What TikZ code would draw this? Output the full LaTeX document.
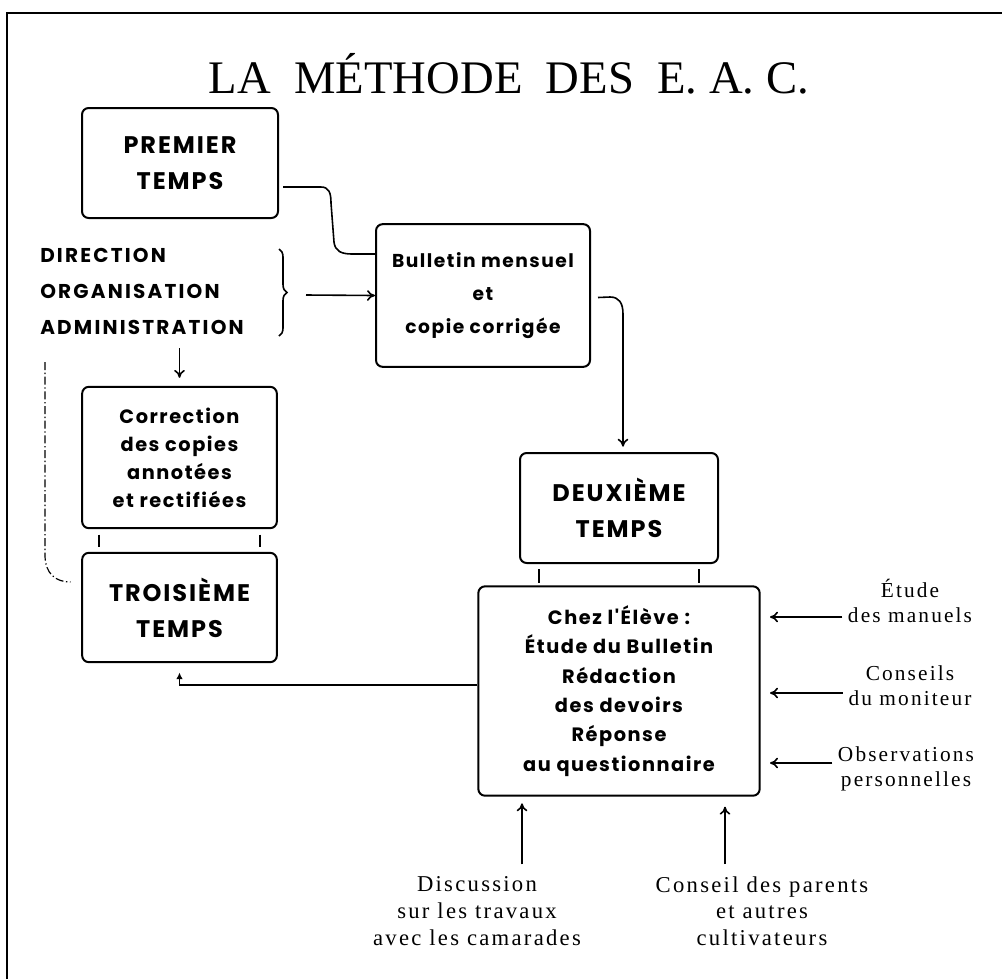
\documentclass[tikz,border=0pt]{standalone}
\usepackage{fontspec}
\setmainfont{Liberation Serif}
\newfontfamily\boxfont{Poppins}[LetterSpace=8]
\newfontfamily\capsfont{Poppins}[LetterSpace=11]
\newfontfamily\labelfont{Liberation Serif}[LetterSpace=10]
\usetikzlibrary{arrows.meta,decorations.pathreplacing}

\tikzset{
  box/.style={draw, line width=1.5pt, rounded corners=5pt, align=center, inner sep=0pt},
  capsbox/.style={box, font=\boxfont\bfseries\fontsize{18}{27}\selectfont},
  textbox/.style={box, font=\boxfont\bfseries\fontsize{14.5}{21}\selectfont},
  sidelabel/.style={align=center, inner sep=0pt, font=\labelfont\fontsize{16}{19}\selectfont},
  footlabel/.style={align=center, inner sep=0pt, font=\labelfont\fontsize{17}{20}\selectfont},
  link/.style={line width=1.2pt},
  arrowlink/.style={link, -{To[length=6pt,width=8pt]}},
  dashdotlink/.style={line width=0.9pt, dash pattern=on 6pt off 2pt on 1pt off 2pt},
}

\begin{document}
\begin{tikzpicture}[x=0.75pt,y=0.75pt,yscale=-1,xscale=1]
    \useasboundingbox (0,0) rectangle (1002,979);

    % Frame
    \draw[line width=1.5pt] (7,979) -- (7,13) -- (1002,13);

    % Title
    \node[inner sep=0pt, font=\fontsize{35}{35}\selectfont] (title) at (509,74) {LA\enspace MÉTHODE\enspace DES\enspace E.~A.~C.};

    % Boxes
    \node[capsbox, minimum width=147pt, minimum height=82.5pt] (premier) at (180,163) {PREMIER\\TEMPS};
    \node[box, font=\boxfont\bfseries\fontsize{14}{25}\selectfont, minimum width=160.5pt, minimum height=107pt] (bulletin) at (483,295.5) {Bulletin mensuel\\et\\copie corrigée};
    \node[textbox, minimum width=146pt, minimum height=106pt] (correction) at (179.5,457.5) {Correction\\des copies\\annotées\\et rectifiées};
    \node[capsbox, minimum width=146pt, minimum height=82pt] (troisieme) at (179.5,607.5) {TROISIÈME\\TEMPS};
    \node[capsbox, minimum width=148.5pt, minimum height=82.5pt] (deuxieme) at (619,508) {DEUXIÈME\\TEMPS};
    \node[box, font=\boxfont\bfseries\fontsize{14.5}{22}\selectfont, minimum width=211pt, minimum height=157pt] (chez) at (619,691) {Chez l'Élève :\\Étude du Bulletin\\Rédaction\\des devoirs\\Réponse\\au questionnaire};

    % Text Node
    \node[anchor=west, align=left, inner sep=0pt, font=\capsfont\bfseries\fontsize{15}{27}\selectfont] (dir) at (40,291) {DIRECTION\\ORGANISATION\\ADMINISTRATION};
    % Text Node
    \node[sidelabel] (etude) at (910,601) {Étude\\des manuels};
    \node[sidelabel] (conseils) at (910,686) {Conseils\\du moniteur};
    \node[sidelabel] (observ) at (906,769) {Observations\\personnelles};
    % Text Node
    \node[footlabel] (discussion) at (477,911) {Discussion\\sur les travaux\\avec les camarades};
    \node[footlabel] (parents) at (762,911) {Conseil des parents\\et autres\\cultivateurs};

    % Brace
    \draw[link, decorate, decoration={brace, amplitude=6pt}] (279,249) -- (279,336);
    \coordinate (bracetip) at (306,295);
    \coordinate (dashstart) at (45,362);

    % Connectors
    \draw[link] (premier.east) ++(4,24) -- (321,187) .. controls (329,187) and (331,193) .. (331,203) -- (334,242) .. controls (335,251) and (341,254) .. (352,254) -- (bulletin.west |- 0,254);
    \draw[arrowlink] (bracetip) -- (bulletin.west);
    \draw[arrowlink, shorten >=6pt] (correction.north |- 0,348) -- (correction.north);
    \draw[dashdotlink, shorten >=8pt] (dashstart) -- (45,555) .. controls (45,574) and (56,582) .. (troisieme.west |- 0,582);
    \draw[arrowlink, shorten >=4pt] (bulletin.east) ++(7,2) -- (610,297) .. controls (619,297) and (623,303) .. (623,314) -- (deuxieme.north -| 623,0);
    \draw[link, -{Latex[length=5pt,width=5pt]}, shorten >=7pt] (chez.west |- 0,685) -| (troisieme.south);

    % Ticks
    \foreach \tx in {99,260}
      \draw[link, shorten <=4pt, shorten >=4pt] (correction.south -| \tx,0) -- (troisieme.north -| \tx,0);
    \foreach \tx in {539,699}
      \draw[link, shorten <=4pt, shorten >=2pt] (deuxieme.south -| \tx,0) -- (chez.north -| \tx,0);

    % Side inputs
    \foreach \lab/\ly in {etude/617, conseils/693, observ/763}
      \draw[arrowlink, shorten <=4pt, shorten >=7pt] (\lab.west |- 0,\ly) -- (chez.east |- 0,\ly);
    \draw[arrowlink, shorten >=5pt] (discussion.north -| 522,0) ++(0,-12) -- (chez.south -| 522,0);
    \draw[arrowlink, shorten >=7.5pt] (parents.north -| 725,0) ++(0,-12) -- (chez.south -| 725,0);
    \end{tikzpicture}
\end{document}
